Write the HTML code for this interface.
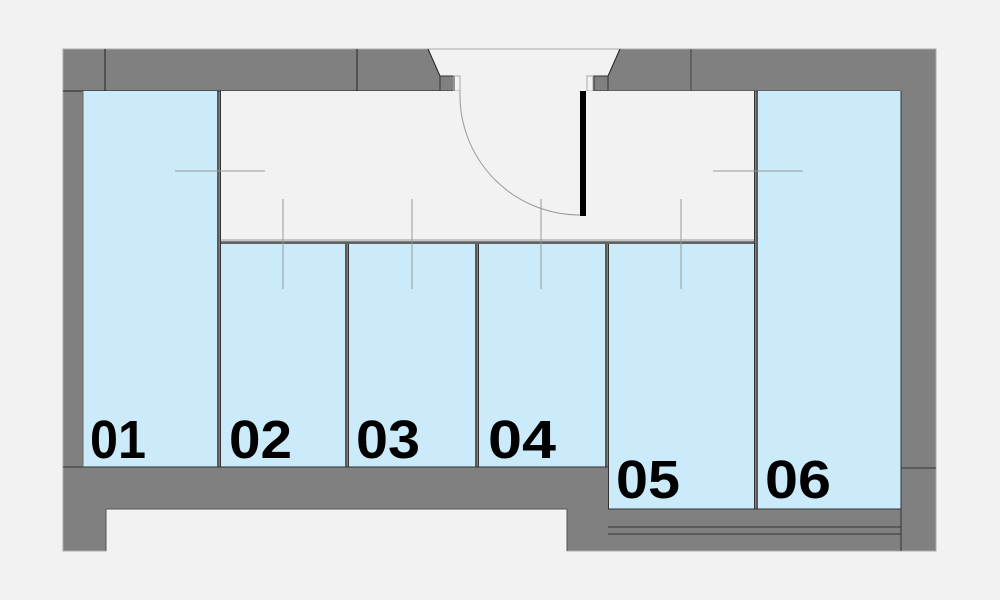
<!DOCTYPE html>
<html><head><style>
body{margin:0;background:#f2f2f2;}
svg{display:block}
text{font-family:"Liberation Sans",sans-serif;font-weight:bold;font-size:54px;fill:#000;}
</style></head><body>
<svg width="1000" height="600" viewBox="0 0 1000 600">
<rect width="1000" height="600" fill="#f2f2f2"/>
<rect x="63" y="49" width="873" height="502" fill="#808080" stroke="#aaa" stroke-width="1"/>
<rect x="106" y="509" width="461" height="44" fill="#f2f2f2"/>
<line x1="106" y1="509" x2="567" y2="509" stroke="#555" stroke-width="1"/>
<line x1="106" y1="509" x2="106" y2="551" stroke="#555"/>
<line x1="567" y1="509" x2="567" y2="551" stroke="#555"/>
<polygon points="428,48 620,48 608,76 593,76 593,91 455,91 455,76 440,76" fill="#f2f2f2"/>
<line x1="428" y1="49" x2="620" y2="49" stroke="#aaa"/>
<line x1="428" y1="49" x2="440" y2="76" stroke="#222"/>
<line x1="620" y1="49" x2="608" y2="76" stroke="#222"/>
<rect x="440" y="76" width="14" height="15" fill="#808080" stroke="#333" stroke-width="1"/>
<rect x="594" y="76" width="14" height="15" fill="#808080" stroke="#333" stroke-width="1"/>
<rect x="454" y="76" width="6" height="15" fill="none" stroke="#aaa"/>
<rect x="587" y="76" width="6" height="15" fill="none" stroke="#aaa"/>
<line x1="105" y1="49" x2="105" y2="91" stroke="#222"/>
<line x1="357" y1="49" x2="357" y2="91" stroke="#222"/>
<line x1="691" y1="49" x2="691" y2="91" stroke="#444"/>
<line x1="63" y1="91" x2="440" y2="91" stroke="#222"/>
<line x1="608" y1="91" x2="901" y2="91" stroke="#444"/>
<rect x="220" y="91" width="534" height="150" fill="#f2f2f2"/>
<line x1="220" y1="240" x2="754" y2="240" stroke="#999" stroke-width="1"/>
<line x1="220" y1="243" x2="754" y2="243" stroke="#444" stroke-width="1"/>
<g fill="#cbebfa">
<rect x="83" y="91" width="134" height="376"/>
<rect x="221" y="244" width="124" height="223"/>
<rect x="349" y="244" width="126" height="223"/>
<rect x="479" y="244" width="126" height="223"/>
<rect x="609" y="244" width="145" height="265"/>
<rect x="758" y="91" width="143" height="418"/>
</g>
<g stroke="#333" stroke-width="1">
<line x1="218" y1="91" x2="218" y2="467"/><line x1="220.5" y1="91" x2="220.5" y2="467"/>
<line x1="346" y1="244" x2="346" y2="467"/><line x1="348.5" y1="244" x2="348.5" y2="467"/>
<line x1="476" y1="244" x2="476" y2="467"/><line x1="478.5" y1="244" x2="478.5" y2="467"/>
<line x1="606" y1="244" x2="606" y2="467"/><line x1="608.5" y1="244" x2="608.5" y2="509"/>
<line x1="754.5" y1="91" x2="754.5" y2="509"/><line x1="757" y1="91" x2="757" y2="509"/>
<line x1="63" y1="467" x2="608" y2="467"/>
<line x1="901" y1="91" x2="901" y2="551"/>
<line x1="608" y1="509" x2="901" y2="509"/>
<line x1="608" y1="527" x2="901" y2="527"/>
<line x1="608" y1="534" x2="901" y2="534"/>
<line x1="901" y1="468" x2="936" y2="468"/>
<line x1="83" y1="91" x2="83" y2="467" stroke="#666"/>
</g>
<path d="M460 91 A120 120 0 0 0 580 215" fill="none" stroke="#999" stroke-width="1"/>
<rect x="580" y="91" width="6" height="125" fill="#000"/>
<g stroke="#999" stroke-width="1">
<line x1="175" y1="171" x2="265" y2="171"/>
<line x1="713" y1="171" x2="803" y2="171"/>
<line x1="283" y1="199" x2="283" y2="289"/>
<line x1="412" y1="199" x2="412" y2="289"/>
<line x1="541" y1="199" x2="541" y2="289"/>
<line x1="681" y1="199" x2="681" y2="289"/>
</g>
<text x="90" y="458" textLength="56" lengthAdjust="spacingAndGlyphs">01</text>
<text x="229" y="458" textLength="63" lengthAdjust="spacingAndGlyphs">02</text>
<text x="356" y="458" textLength="64" lengthAdjust="spacingAndGlyphs">03</text>
<text x="488" y="458" textLength="68" lengthAdjust="spacingAndGlyphs">04</text>
<text x="616" y="498" textLength="64" lengthAdjust="spacingAndGlyphs">05</text>
<text x="765" y="498" textLength="66" lengthAdjust="spacingAndGlyphs">06</text>
</svg>
</body></html>
